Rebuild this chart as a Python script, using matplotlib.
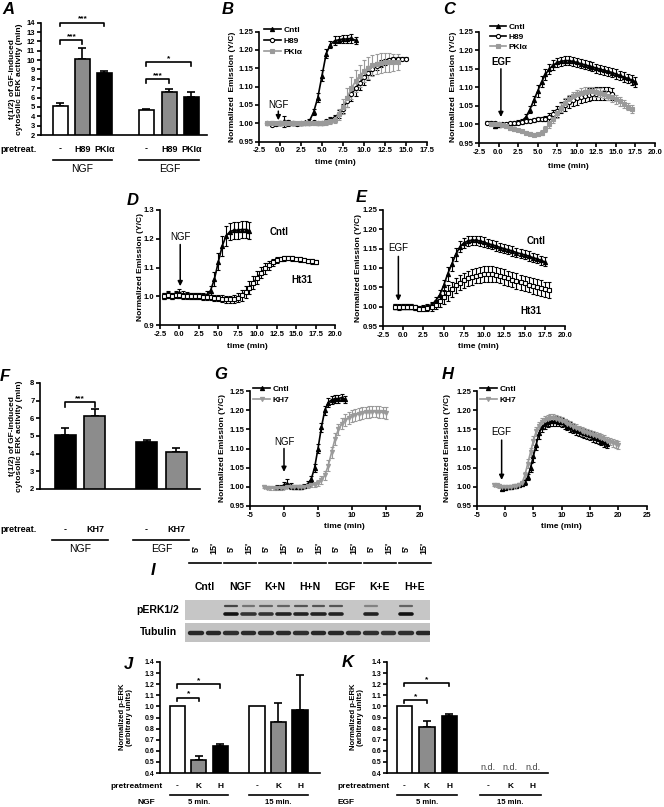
import numpy as np
import matplotlib
matplotlib.use('Agg')
import matplotlib.pyplot as plt
import matplotlib.transforms as mtransforms

plt.rcParams['font.family'] = ['Liberation Sans', 'DejaVu Sans']
plt.rcParams['font.weight'] = 'bold'
plt.rcParams['axes.linewidth'] = 1.2

# ---------------- data ----------------
# A: t(1/2) bars
a_labels = ['-', 'H89', 'PKI\u03b1', '-', 'H89', 'PKI\u03b1']
a_vals = [5.05, 10.1, 8.6, 4.65, 6.55, 6.05]
a_errs = [0.4, 1.2, 0.2, 0.15, 0.4, 0.5]

# F: t(1/2) bars with KH7
f_labels = ['-', 'KH7', '-', 'KH7']
f_vals = [5.05, 6.15, 4.65, 4.12]
f_errs = [0.4, 0.35, 0.15, 0.2]

# B: NGF traces
b_t_cntl = np.arange(-1, 9.01, 0.5)
b_cntl = [1.000, 1.000, 1.000, 1.005, 1.000, 1.000, 1.000, 1.000, 1.002, 1.006,
          1.030, 1.070, 1.130, 1.190, 1.215, 1.225, 1.228, 1.230, 1.230, 1.232, 1.226]
b_cntl_e = [0.005, 0.004, 0.006, 0.015, 0.008, 0.005, 0.004, 0.004, 0.005, 0.006,
            0.008, 0.012, 0.015, 0.012, 0.010, 0.012, 0.010, 0.010, 0.010, 0.012, 0.010]
b_t_h89 = np.arange(-1.5, 15.01, 0.5)
b_h89 = [1.000, 0.995, 0.998, 1.000, 1.000, 1.002, 1.000, 0.998, 1.000, 1.000,
         1.000, 1.002, 1.000, 1.000, 1.005, 1.010, 1.015, 1.025, 1.040, 1.060,
         1.080, 1.095, 1.110, 1.125, 1.137, 1.147, 1.156, 1.163, 1.168, 1.172,
         1.175, 1.176, 1.176, 1.176]
b_h89_e = [0.004, 0.004, 0.004, 0.005, 0.004, 0.004, 0.004, 0.004, 0.004, 0.004,
           0.004, 0.004, 0.004, 0.004, 0.005, 0.006, 0.008, 0.010, 0.012, 0.015,
           0.018, 0.020, 0.020, 0.020, 0.018, 0.016, 0.012, 0.010, 0.008, 0.006,
           0.005, 0.005, 0.004, 0.004]
b_t_pki = np.arange(-1.5, 14.01, 0.5)
b_pki = [1.000, 1.000, 1.000, 1.000, 1.000, 1.000, 1.000, 1.000, 1.000, 1.000,
         1.000, 1.000, 1.000, 1.000, 1.002, 1.005, 1.010, 1.025, 1.045, 1.070,
         1.095, 1.115, 1.130, 1.142, 1.152, 1.158, 1.162, 1.165, 1.166, 1.166,
         1.166, 1.166]
b_pki_e = [0.004, 0.004, 0.004, 0.004, 0.004, 0.004, 0.004, 0.004, 0.004, 0.004,
           0.004, 0.004, 0.004, 0.005, 0.006, 0.008, 0.010, 0.015, 0.020, 0.025,
           0.030, 0.030, 0.030, 0.030, 0.030, 0.028, 0.028, 0.028, 0.026, 0.025,
           0.024, 0.022]

# C: EGF traces
c_t_cntl = np.arange(-0.5, 17.51, 0.5)
c_cntl = [0.995, 0.998, 1.000, 1.000, 1.002, 1.004, 1.006, 1.010, 1.020, 1.040,
          1.065, 1.090, 1.115, 1.135, 1.150, 1.160, 1.167, 1.170, 1.172, 1.172,
          1.170, 1.167, 1.164, 1.161, 1.158, 1.155, 1.152, 1.149, 1.146, 1.143,
          1.140, 1.136, 1.132, 1.128, 1.124, 1.120, 1.115]
c_cntl_e = [0.005, 0.005, 0.004, 0.004, 0.004, 0.004, 0.005, 0.006, 0.008, 0.010,
            0.012, 0.015, 0.015, 0.015, 0.014, 0.013, 0.012, 0.012, 0.012, 0.012,
            0.012, 0.012, 0.012, 0.012, 0.012, 0.012, 0.012, 0.012, 0.012, 0.013,
            0.013, 0.013, 0.013, 0.013, 0.013, 0.013, 0.013]
c_t_h89 = np.arange(-1.5, 14.51, 0.5)
c_h89 = [1.005, 1.005, 1.003, 1.002, 1.002, 1.002, 1.003, 1.004, 1.005, 1.006,
         1.008, 1.010, 1.012, 1.014, 1.015, 1.016, 1.020, 1.027, 1.035, 1.045,
         1.053, 1.060, 1.066, 1.070, 1.074, 1.077, 1.080, 1.082, 1.083, 1.084,
         1.084, 1.084, 1.083]
c_h89_e = [0.003, 0.003, 0.003, 0.003, 0.003, 0.003, 0.003, 0.003, 0.003, 0.004,
           0.004, 0.004, 0.005, 0.005, 0.006, 0.008, 0.010, 0.012, 0.014, 0.015,
           0.016, 0.016, 0.016, 0.017, 0.017, 0.017, 0.017, 0.017, 0.017, 0.017,
           0.017, 0.017, 0.016]
c_t_pki = np.arange(-1, 17.01, 0.5)
c_pki = [1.000, 1.000, 1.000, 0.998, 0.995, 0.990, 0.987, 0.985, 0.982, 0.978,
         0.975, 0.972, 0.973, 0.978, 0.987, 1.000, 1.015, 1.030, 1.045, 1.058,
         1.068, 1.076, 1.082, 1.086, 1.088, 1.089, 1.089, 1.087, 1.085, 1.082,
         1.078, 1.073, 1.068, 1.062, 1.055, 1.048, 1.042]
c_pki_e = [0.004, 0.004, 0.004, 0.004, 0.004, 0.004, 0.004, 0.004, 0.004, 0.004,
           0.004, 0.004, 0.005, 0.006, 0.008, 0.010, 0.012, 0.012, 0.012, 0.012,
           0.012, 0.012, 0.012, 0.012, 0.012, 0.012, 0.012, 0.012, 0.012, 0.012,
           0.012, 0.012, 0.012, 0.012, 0.012, 0.010, 0.010]

# D: NGF, Ht31
d_t_cntl = np.arange(-2, 9.01, 0.5)
d_cntl = [1.000, 1.005, 1.000, 1.008, 1.010, 1.006, 1.005, 1.000, 1.000, 1.000,
          1.000, 1.005, 1.020, 1.060, 1.120, 1.175, 1.210, 1.225, 1.230, 1.230,
          1.232, 1.232, 1.228]
d_cntl_e = [0.010, 0.012, 0.010, 0.012, 0.015, 0.012, 0.010, 0.010, 0.010, 0.010,
            0.010, 0.012, 0.015, 0.025, 0.030, 0.035, 0.035, 0.030, 0.030, 0.030,
            0.030, 0.030, 0.030]
d_t_ht = np.arange(-2, 17.51, 0.5)
d_ht = [1.000, 1.005, 1.000, 1.005, 1.005, 1.000, 1.000, 1.000, 1.000, 1.000,
        0.998, 0.997, 0.996, 0.995, 0.993, 0.991, 0.990, 0.990, 0.991, 0.995,
        1.003, 1.015, 1.030, 1.047, 1.065, 1.082, 1.097, 1.108, 1.118, 1.125,
        1.130, 1.132, 1.133, 1.132, 1.130, 1.128, 1.126, 1.123, 1.121, 1.119]
d_ht_e = [0.010, 0.010, 0.010, 0.010, 0.010, 0.010, 0.010, 0.010, 0.010, 0.010,
          0.010, 0.010, 0.010, 0.010, 0.010, 0.012, 0.012, 0.012, 0.014, 0.016,
          0.018, 0.020, 0.022, 0.022, 0.022, 0.020, 0.018, 0.015, 0.012, 0.010,
          0.008, 0.008, 0.008, 0.008, 0.008, 0.008, 0.008, 0.008, 0.008, 0.008]

# E: EGF, Ht31
e_t_cntl = np.arange(-1, 17.51, 0.5)
e_cntl = [1.000, 0.998, 1.000, 1.000, 1.000, 0.998, 0.997, 0.998, 1.000, 1.005,
          1.015, 1.030, 1.055, 1.085, 1.110, 1.135, 1.155, 1.165, 1.170, 1.172,
          1.172, 1.170, 1.167, 1.163, 1.160, 1.157, 1.153, 1.150, 1.147, 1.144,
          1.140, 1.137, 1.134, 1.131, 1.127, 1.124, 1.120, 1.116]
e_cntl_e = [0.006, 0.006, 0.006, 0.006, 0.006, 0.006, 0.006, 0.006, 0.006, 0.008,
            0.010, 0.012, 0.015, 0.018, 0.018, 0.016, 0.014, 0.012, 0.012, 0.012,
            0.012, 0.012, 0.012, 0.012, 0.012, 0.012, 0.012, 0.012, 0.012, 0.012,
            0.012, 0.012, 0.012, 0.012, 0.012, 0.012, 0.012, 0.012]
e_t_ht = np.arange(-1, 18.01, 0.5)
e_ht = [1.000, 1.000, 1.000, 1.000, 1.000, 0.998, 0.995, 0.995, 0.997, 1.000,
        1.005, 1.015, 1.025, 1.035, 1.045, 1.055, 1.062, 1.068, 1.073, 1.077,
        1.080, 1.082, 1.084, 1.085, 1.085, 1.083, 1.080, 1.077, 1.073, 1.070,
        1.066, 1.063, 1.060, 1.057, 1.054, 1.051, 1.048, 1.045, 1.043]
e_ht_e = [0.006, 0.006, 0.006, 0.006, 0.006, 0.006, 0.006, 0.006, 0.008, 0.010,
          0.012, 0.015, 0.018, 0.020, 0.020, 0.020, 0.020, 0.020, 0.020, 0.020,
          0.020, 0.020, 0.020, 0.020, 0.020, 0.020, 0.020, 0.020, 0.020, 0.020,
          0.020, 0.020, 0.020, 0.020, 0.020, 0.020, 0.020, 0.020, 0.020]

# G: NGF, KH7
g_t_cntl = np.arange(-1, 9.01, 0.5)
g_cntl = [1.000, 1.000, 1.005, 1.008, 1.003, 1.000, 1.000, 1.000, 1.002, 1.008,
          1.020, 1.050, 1.100, 1.155, 1.200, 1.220, 1.227, 1.230, 1.230, 1.233, 1.228]
g_cntl_e = [0.005, 0.005, 0.008, 0.012, 0.008, 0.006, 0.005, 0.005, 0.005, 0.006,
            0.008, 0.010, 0.012, 0.012, 0.012, 0.012, 0.010, 0.010, 0.010, 0.010, 0.010]
g_t_kh7 = np.arange(-3, 15.01, 0.5)
g_kh7 = [1.000, 0.998, 0.997, 0.996, 0.996, 0.997, 0.998, 1.000, 1.000, 1.000,
         1.000, 1.000, 1.000, 1.002, 1.004, 1.006, 1.010, 1.018, 1.030, 1.055,
         1.090, 1.125, 1.150, 1.165, 1.175, 1.180, 1.185, 1.188, 1.190, 1.192,
         1.194, 1.195, 1.196, 1.196, 1.195, 1.194, 1.193]
g_kh7_e = [0.004, 0.004, 0.004, 0.004, 0.004, 0.004, 0.004, 0.004, 0.004, 0.004,
           0.004, 0.004, 0.004, 0.004, 0.005, 0.006, 0.008, 0.010, 0.012, 0.014,
           0.015, 0.015, 0.015, 0.015, 0.015, 0.015, 0.015, 0.015, 0.015, 0.015,
           0.015, 0.015, 0.015, 0.015, 0.015, 0.015, 0.015]

# H: EGF, KH7
h_t_cntl = np.arange(-0.5, 18.01, 0.5)
h_cntl = [0.995, 0.998, 0.999, 1.000, 1.001, 1.003, 1.005, 1.008, 1.012, 1.025,
          1.050, 1.080, 1.110, 1.140, 1.155, 1.163, 1.168, 1.171, 1.172, 1.172,
          1.170, 1.168, 1.164, 1.160, 1.156, 1.152, 1.148, 1.145, 1.142, 1.140,
          1.137, 1.134, 1.130, 1.127, 1.124, 1.120, 1.117, 1.113]
h_cntl_e = [0.004, 0.004, 0.004, 0.004, 0.004, 0.004, 0.004, 0.005, 0.006, 0.008,
            0.012, 0.015, 0.015, 0.015, 0.013, 0.012, 0.012, 0.012, 0.012, 0.012,
            0.012, 0.012, 0.012, 0.012, 0.012, 0.012, 0.012, 0.012, 0.012, 0.012,
            0.012, 0.012, 0.012, 0.012, 0.012, 0.012, 0.012, 0.012]
h_t_kh7 = np.arange(-2, 20.01, 0.5)
h_kh7 = [1.005, 1.004, 1.002, 1.000, 1.000, 1.000, 1.000, 1.001, 1.002, 1.005,
         1.010, 1.030, 1.060, 1.090, 1.120, 1.145, 1.160, 1.170, 1.175, 1.178,
         1.180, 1.180, 1.178, 1.175, 1.172, 1.168, 1.165, 1.161, 1.157, 1.153,
         1.150, 1.146, 1.143, 1.140, 1.138, 1.135, 1.132, 1.130, 1.127, 1.124,
         1.120, 1.118, 1.115, 1.112, 1.110]
h_kh7_e = [0.004, 0.004, 0.004, 0.004, 0.004, 0.004, 0.004, 0.004, 0.004, 0.004,
           0.006, 0.010, 0.012, 0.012, 0.012, 0.012, 0.010, 0.010, 0.010, 0.010,
           0.010, 0.010, 0.010, 0.010, 0.010, 0.010, 0.010, 0.010, 0.010, 0.010,
           0.010, 0.010, 0.010, 0.010, 0.010, 0.010, 0.010, 0.010, 0.010, 0.010,
           0.010, 0.010, 0.010, 0.010, 0.010]

# I: blot
blot_groups = ['Cntl', 'NGF', 'K+N', 'H+N', 'EGF', 'K+E', 'H+E']
blot_lanes = ["5'", "15'"] * 7
perk_upper = [0, 0, 0.8, 0.5, 0.6, 0.6, 0.7, 0.7, 0.7, 0, 0.4, 0, 0.6, 0]
perk_lower = [0, 0, 1.0, 0.8, 0.8, 0.9, 0.9, 0.9, 0.9, 0, 0.9, 0, 1.0, 0]
tubulin = [1.0, 1.0, 0.9, 0.95, 0.95, 0.95, 0.9, 1.0, 1.0, 0.9, 0.9, 0.85, 0.9, 1.0]

# J / K: p-ERK quantification
jk_labels = ['-', 'K', 'H', '-', 'K', 'H']
j_vals = [1.0, 0.52, 0.64, 1.0, 0.855, 0.965]
j_errs = [0, 0.03, 0.02, 0, 0.175, 0.32]
k_vals = [1.0, 0.81, 0.915]
k_errs = [0, 0.055, 0.015]

bar_colors = ['white', '#8c8c8c', 'black']

# ---------------- helpers ----------------
W, H = 664, 807
fig = plt.figure(figsize=(W / 100, H / 100), dpi=100)


def fy(y):
    return 1 - y / H


def add_ax(x0, y0, x1, y1):
    return fig.add_axes([x0 / W, 1 - y1 / H, (x1 - x0) / W, (y1 - y0) / H])


def ftext(x, y, s, **kw):
    fig.text(x / W, fy(y), s, **kw)


def style(ax, fs=5.5):
    ax.spines['top'].set_visible(False)
    ax.spines['right'].set_visible(False)
    ax.tick_params(direction='out', length=3, width=1.2, labelsize=fs, pad=1)


def blend(ax):
    return mtransforms.blended_transform_factory(ax.transData, fig.transFigure)


def under(ax, x, ypx, s, **kw):
    kw.setdefault('ha', 'center')
    kw.setdefault('va', 'center')
    ax.text(x, fy(ypx), s, transform=blend(ax), clip_on=False, **kw)


def underline(ax, x1, x2, ypx):
    ax.plot([x1, x2], [fy(ypx)] * 2, transform=blend(ax), color='k', lw=1.2,
            clip_on=False)


def bars(ax, pos, vals, errs, colors, width):
    ax.bar(pos, vals, width, color=colors, edgecolor='k', lw=1.2, zorder=2)
    for p, v, e in zip(pos, vals, errs):
        if e > 0:
            ax.errorbar([p], [v], yerr=[[0], [e]], fmt='none', ecolor='k',
                        elinewidth=1.2, capsize=3, capthick=1.2, zorder=1)


def bracket(ax, x1, x2, y, d, s, fs=6):
    ax.plot([x1, x1, x2, x2], [y - d, y, y, y - d], color='k', lw=1.2, clip_on=False)
    ax.text((x1 + x2) / 2, y, s, ha='center', va='bottom', fontsize=fs, clip_on=False)


def curve(ax, t, y, e, marker, color, mfc):
    c = ax.errorbar(t, y, yerr=e, color=color, marker=marker, ms=3, mfc=mfc,
                    mec=color, mew=0.8, lw=1.2, elinewidth=0.8, capsize=1.6,
                    capthick=0.8)
    return c[0]


def legend(ax, handles, labels, anchor, spacing=0.35):
    ax.legend(handles, labels, loc='upper left', bbox_to_anchor=anchor, frameon=False,
              fontsize=6, handlelength=2, handletextpad=0.3, labelspacing=spacing,
              borderpad=0, borderaxespad=0)


def trace_axes(box, xlim, xticks, xfmt, ylim, yticks, yfmt):
    ax = add_ax(*box)
    style(ax)
    ax.set_xlim(*xlim)
    ax.set_ylim(*ylim)
    ax.set_xticks(xticks)
    ax.set_xticklabels([xfmt % v for v in xticks])
    ax.set_yticks(yticks)
    ax.set_yticklabels([yfmt % v for v in yticks])
    return ax


def arrow(ax, x, y_tip, y_tail, label, lab_y, bold=False):
    ax.annotate('', xy=(x, y_tip), xytext=(x, y_tail),
                arrowprops=dict(arrowstyle='-|>', color='k', lw=1.1,
                                mutation_scale=7, shrinkA=0, shrinkB=0))
    ax.text(x, lab_y, label, ha='center', va='bottom', fontsize=7,
            fontweight='bold' if bold else 'normal')


def letter(x, y, s):
    ftext(x, y, s, fontsize=12, fontweight='bold', fontstyle='italic',
          ha='left', va='top')


grey = '#9a9a9a'
ylab = 'Normalized Emission (Y/C)'

# ---------------- A ----------------
axA = add_ax(40.7, 22.7, 207, 135)
style(axA, 5.5)
posA = [0, 1, 2, 3.9, 4.95, 5.95]
bars(axA, posA, a_vals, a_errs, bar_colors * 2, 0.68)
axA.set_ylim(2, 14)
axA.set_yticks(range(2, 15))
axA.set_xlim(-0.9, 6.66)
axA.set_xticks([])
bracket(axA, 0, 1, 12.1, 0.4, '***')
bracket(axA, 0, 2, 14.0, 0.4, '***')
bracket(axA, 3.9, 4.95, 8.0, 0.4, '***')
bracket(axA, 3.9, 5.95, 9.8, 0.4, '*')
ftext(0, 149, 'pretreat.', fontsize=6.5, ha='left', va='center')
for p, s in zip(posA, a_labels):
    under(axA, p, 149, s, fontsize=6.5)
underline(axA, -0.34, 2.34, 159.5)
underline(axA, 3.56, 6.29, 159.5)
under(axA, 1, 169, 'NGF', fontsize=7.5, fontweight='normal')
under(axA, 4.95, 169, 'EGF', fontsize=7.5, fontweight='normal')
ftext(16, 79, 't(1/2) of GF-induced\ncytosolic ERK activity (min)', rotation=90,
      ha='center', va='center', fontsize=6, linespacing=1.1)
letter(2, 2, 'A')

# ---------------- B ----------------
axB = trace_axes((259, 31.7, 427, 141.5), (-2.5, 17.5), np.arange(-2.5, 17.6, 2.5), '%.1f',
                 (0.95, 1.25), np.arange(0.95, 1.2501, 0.05), '%.2f')
hB = [curve(axB, b_t_cntl, b_cntl, b_cntl_e, '^', 'k', 'k'),
      curve(axB, b_t_h89, b_h89, b_h89_e, 'o', 'k', 'white'),
      curve(axB, b_t_pki, b_pki, b_pki_e, 's', grey, grey)]
legend(axB, hB, ['Cntl', 'H89', 'PKI\u03b1'], (0.03, 1.05))
arrow(axB, -0.2, 1.008, 1.033, 'NGF', 1.036)
ftext(335, 163, 'time (min)', fontsize=6, ha='center', va='center')
ftext(232, 87, 'Normalized  Emission (Y/C)', rotation=90, ha='center', va='center', fontsize=6)
letter(222, 2, 'B')

# ---------------- C ----------------
axC = trace_axes((479, 31.7, 655, 143), (-2.5, 20), np.arange(-2.5, 20.1, 2.5), '%.1f',
                 (0.95, 1.25), np.arange(0.95, 1.2501, 0.05), '%.2f')
hC = [curve(axC, c_t_cntl, c_cntl, c_cntl_e, '^', 'k', 'k'),
      curve(axC, c_t_h89, c_h89, c_h89_e, 'o', 'k', 'white'),
      curve(axC, c_t_pki, c_pki, c_pki_e, 's', grey, grey)]
legend(axC, hC, ['Cntl', 'H89', 'PKI\u03b1'], (0.06, 1.08), 0.3)
arrow(axC, 0.3, 1.02, 1.15, 'EGF', 1.155, bold=True)
ftext(568, 166, 'time (min)', fontsize=6, ha='center', va='center')
ftext(453, 87, 'Normalized  Emission (Y/C)', rotation=90, ha='center', va='center', fontsize=6)
letter(443, 2, 'C')

# ---------------- D ----------------
axD = trace_axes((160, 210, 335, 325), (-2.5, 20), np.arange(-2.5, 20.1, 2.5), '%.1f',
                 (0.9, 1.3), np.arange(0.9, 1.301, 0.1), '%.1f')
curve(axD, d_t_cntl, d_cntl, d_cntl_e, '^', 'k', 'k')
curve(axD, d_t_ht, d_ht, d_ht_e, 's', 'k', 'white')
arrow(axD, 0.1, 1.035, 1.18, 'NGF', 1.19)
axD.text(12.8, 1.224, 'Cntl', fontsize=7, ha='center', va='center')
axD.text(15.8, 1.057, 'Ht31', fontsize=7, ha='center', va='center')
ftext(247, 347, 'time (min)', fontsize=6, ha='center', va='center')
ftext(140, 267, ylab, rotation=90, ha='center', va='center', fontsize=6)
letter(127, 193, 'D')

# ---------------- E ----------------
axE = trace_axes((383, 210, 565, 326), (-2.5, 20), np.arange(-2.5, 20.1, 2.5), '%.1f',
                 (0.95, 1.25), np.arange(0.95, 1.2501, 0.05), '%.2f')
curve(axE, e_t_cntl, e_cntl, e_cntl_e, '^', 'k', 'k')
curve(axE, e_t_ht, e_ht, e_ht_e, 's', 'k', 'white')
arrow(axE, -0.6, 1.015, 1.13, 'EGF', 1.138)
axE.text(16.4, 1.17, 'Cntl', fontsize=7, ha='center', va='center')
axE.text(15.8, 0.989, 'Ht31', fontsize=7, ha='center', va='center')
ftext(478, 347, 'time (min)', fontsize=6, ha='center', va='center')
ftext(359, 268, ylab, rotation=90, ha='center', va='center', fontsize=6)
letter(356, 190, 'E')

# ---------------- F ----------------
axF = add_ax(40, 383, 200, 489)
style(axF, 5.5)
posF = [0, 1, 2.75, 3.75]
bars(axF, posF, f_vals, f_errs, ['black', '#8c8c8c'] * 2, 0.71)
axF.set_ylim(2, 8)
axF.set_yticks(range(2, 9))
axF.set_xlim(-0.86, 4.56)
axF.set_xticks([])
bracket(axF, 0, 1, 6.9, 0.25, '***')
ftext(0, 530, 'pretreat.', fontsize=6.5, ha='left', va='center')
for p, s in zip(posF, f_labels):
    under(axF, p, 530, s, fontsize=6.5)
underline(axF, -0.45, 1.45, 539.5)
underline(axF, 2.3, 4.2, 539.5)
under(axF, 0.5, 549, 'NGF', fontsize=7.5, fontweight='normal')
under(axF, 3.25, 549, 'EGF', fontsize=7.5, fontweight='normal')
ftext(16, 436, 't(1/2) of GF-induced\ncytosolic ERK activity (min)', rotation=90,
      ha='center', va='center', fontsize=6, linespacing=1.1)
letter(0, 369, 'F')

# ---------------- G ----------------
axG = trace_axes((250, 391, 420, 506), (-5, 20), np.arange(-5, 21, 5), '%d',
                 (0.95, 1.25), np.arange(0.95, 1.2501, 0.05), '%.2f')
hG = [curve(axG, g_t_cntl, g_cntl, g_cntl_e, '^', 'k', 'k'),
      curve(axG, g_t_kh7, g_kh7, g_kh7_e, 'v', grey, grey)]
legend(axG, hG, ['Cntl', 'KH7'], (0.02, 1.05))
arrow(axG, 0, 1.039, 1.1, 'NGF', 1.104)
ftext(344, 526, 'time (min)', fontsize=6, ha='center', va='center')
ftext(222, 448, ylab, rotation=90, ha='center', va='center', fontsize=6)
letter(214, 367, 'G')

# ---------------- H ----------------
axH = trace_axes((476.7, 391, 646.7, 506), (-5, 25), np.arange(-5, 26, 5), '%d',
                 (0.95, 1.25), np.arange(0.95, 1.2501, 0.05), '%.2f')
hH = [curve(axH, h_t_cntl, h_cntl, h_cntl_e, '^', 'k', 'k'),
      curve(axH, h_t_kh7, h_kh7, h_kh7_e, 'v', grey, grey)]
legend(axH, hH, ['Cntl', 'KH7'], (0.02, 1.05))
arrow(axH, -0.6, 1.018, 1.122, 'EGF', 1.131)
ftext(561, 527, 'time (min)', fontsize=6, ha='center', va='center')
ftext(448, 448, ylab, rotation=90, ha='center', va='center', fontsize=6)
letter(442, 367, 'H')

# ---------------- I (blot) ----------------
lanes = np.arange(len(blot_lanes))
axP = add_ax(185, 600, 430, 620)
axP.set_facecolor('#c6c6c6')
axP.set_xlim(-0.63, 13.37)
axP.set_ylim(0, 1)
axP.set_xticks([])
axP.set_yticks([])
for s in axP.spines.values():
    s.set_visible(False)
for i, (u, l) in enumerate(zip(perk_upper, perk_lower)):
    if u > 0:
        axP.plot([i - 0.33, i + 0.33], [0.68, 0.68], color=str(0.75 - 0.6 * u),
                 lw=1.6, solid_capstyle='round')
    if l > 0:
        axP.plot([i - 0.36, i + 0.36], [0.3, 0.3], color=str(0.72 - 0.65 * l),
                 lw=2.6, solid_capstyle='round')
axT = add_ax(185, 623, 430, 642)
axT.set_facecolor('#c2c2c2')
axT.set_xlim(-0.63, 13.37)
axT.set_ylim(0, 1)
axT.set_xticks([])
axT.set_yticks([])
for s in axT.spines.values():
    s.set_visible(False)
for i, v in enumerate(tubulin):
    axT.plot([i - 0.34, i + 0.34], [0.5, 0.5], color=str(0.45 - 0.3 * v), lw=3.2,
             solid_capstyle='round')
for i, s in zip(lanes, blot_lanes):
    under(axP, i, 548, s, fontsize=6.5, rotation=90)
for g, s in enumerate(blot_groups):
    underline(axP, 2 * g - 0.4, 2 * g + 1.4, 563)
    under(axP, 2 * g + 0.5, 587, s, fontsize=7.5)
ftext(158, 610, 'pERK1/2', fontsize=7.5, ha='center', va='center')
ftext(158, 632, 'Tubulin', fontsize=7.5, ha='center', va='center')
letter(151, 563, 'I')

# ---------------- J ----------------
posJ = [0, 1, 2, 3.7, 4.7, 5.7]
axJ = add_ax(160, 662, 320, 773)
style(axJ, 5)
bars(axJ, posJ, j_vals, j_errs, bar_colors * 2, 0.7)
axJ.set_ylim(0.4, 1.4)
axJ.set_yticks(np.arange(0.4, 1.401, 0.1))
axJ.set_yticklabels(['%.1f' % v for v in np.arange(0.4, 1.401, 0.1)])
axJ.set_xlim(-0.81, 6.63)
axJ.set_xticks([])
bracket(axJ, 0, 1, 1.08, 0.03, '*')
bracket(axJ, 0, 2, 1.2, 0.03, '*')
ftext(163, 786, 'pretreatment', fontsize=6, ha='right', va='center')
for p, s in zip(posJ, jk_labels):
    under(axJ, p, 786, s, fontsize=6)
underline(axJ, -0.35, 2.35, 795)
underline(axJ, 3.35, 6.05, 795)
ftext(146, 803, 'NGF', fontsize=6, ha='center', va='center')
under(axJ, 1, 803, '5 min.', fontsize=5.5)
under(axJ, 4.7, 803, '15 min.', fontsize=5.5)
ftext(126, 717, 'Normalized p-ERK\n(arbitrary units)', rotation=90, ha='center',
      va='center', fontsize=5.5, linespacing=1.1)
letter(124, 657, 'J')

# ---------------- K ----------------
axK = add_ax(386.7, 662, 548, 773)
style(axK, 5)
bars(axK, posJ[:3], k_vals, k_errs, bar_colors, 0.68)
axK.set_ylim(0.4, 1.4)
axK.set_yticks(np.arange(0.4, 1.401, 0.1))
axK.set_yticklabels(['%.1f' % v for v in np.arange(0.4, 1.401, 0.1)])
axK.set_xlim(-0.79, 6.38)
axK.set_xticks([])
for p in posJ[3:]:
    axK.text(p, 0.41, 'n.d.', ha='center', va='bottom', fontsize=6.5,
             fontweight='normal', color='#444444')
bracket(axK, 0, 1, 1.06, 0.03, '*')
bracket(axK, 0, 2, 1.21, 0.03, '*')
ftext(390, 786, 'pretreatment', fontsize=6, ha='right', va='center')
for p, s in zip(posJ, jk_labels):
    under(axK, p, 786, s, fontsize=6)
underline(axK, -0.35, 2.35, 795)
underline(axK, 3.35, 6.05, 795)
ftext(346, 803, 'EGF', fontsize=6, ha='center', va='center')
under(axK, 1, 803, '5 min.', fontsize=5.5)
under(axK, 4.7, 803, '15 min.', fontsize=5.5)
ftext(357, 717, 'Normalized p-ERK\n(arbitrary units)', rotation=90, ha='center',
      va='center', fontsize=5.5, linespacing=1.1)
letter(342, 655, 'K')

fig.savefig('out.png', dpi=100)
